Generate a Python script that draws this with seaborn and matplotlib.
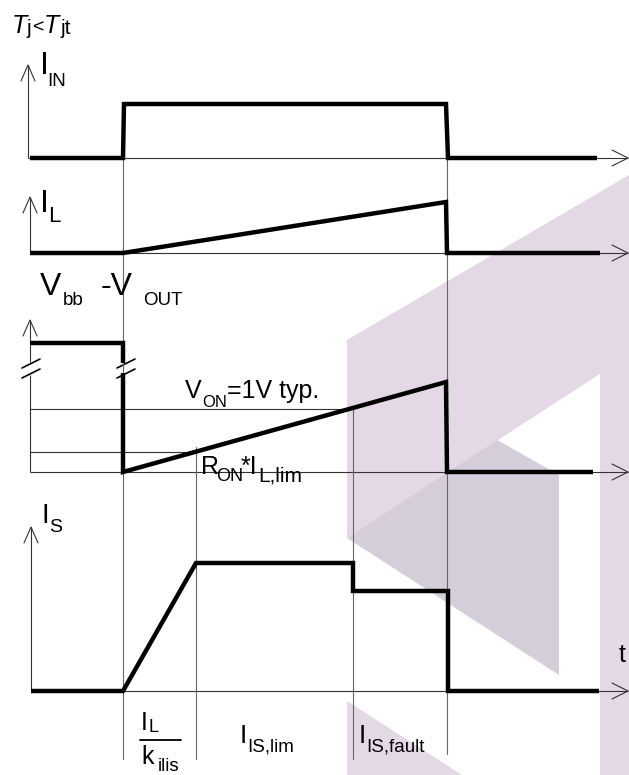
import numpy as np
import pandas as pd
import matplotlib
matplotlib.use("Agg")
import matplotlib.pyplot as plt
from matplotlib.patches import Polygon
import seaborn as sns

# ── Timing data (picture units, px; y grows downward) ──────
T_ON, T_LIM, T_FAULT, T_OFF = 123, 196, 353, 447

# I_IN
iin_t = [30, 123, 124, 446, 448, 597]
iin_y = [158, 158, 104, 104, 158, 158]
# I_L
il_t = [30, 123, 446, 447, 600]
il_y = [253, 253, 202, 253, 253]
# Vbb - VOUT (split by the axis break)
vds_hi_t = [30, 123, 123]
vds_hi_y = [343, 343, 363]
vds_t = [123, 123, 446, 447, 593]
vds_y = [373, 472, 382, 472, 472]
# I_S
is_t = [31, 123, 196, 353, 353, 448, 448, 599]
is_y = [691, 691, 563, 563, 591, 591, 691, 691]

# axes of the four traces
baselines = [158, 253, 472, 691]
axis_x = [28, 30, 30, 31]
axis_top = [65, 197, 320, 527]

# reference levels on the Vbb - VOUT trace
von_level = 409
ron_level = 452

# ── Style ──────────────────────────────────────────────
sns.set_theme(style="white")
plt.rcParams["font.family"] = ["Liberation Sans", "DejaVu Sans"]

W, H = 629, 775
fig = plt.figure(figsize=(W / 100, H / 100), dpi=100)
ax = fig.add_axes([0, 0, 1, 1])

THIN = dict(color="#333333", lw=0.8, solid_capstyle="butt")
GUIDE = dict(color="#666666", lw=0.8)
THICK = dict(color="black", lw=3.2, solid_capstyle="butt", solid_joinstyle="miter")

# ── Watermark ──────────────────────────────────────────
LIGHT = "#e4d8e6"
DARK = "#d6cdda"
shapes = [
    ([(347, 340), (629, 175), (629, 355), (347, 538)], LIGHT),
    ([(600, 340), (629, 340), (629, 775), (600, 775)], LIGHT),
    ([(347, 538), (497, 440), (559, 475), (559, 675)], DARK),
    ([(347, 701), (347, 775), (462, 775)], LIGHT),
]
for pts, col in shapes:
    ax.add_patch(Polygon(pts, closed=True, facecolor=col, edgecolor="none", zorder=0))

# ── Axes with open arrow heads ─────────────────────────
for i, (bx, base, top) in enumerate(zip(axis_x, baselines, axis_top)):
    if i == 2:
        ax.plot([bx, bx], [base, 375], **THIN)
        ax.plot([bx, bx], [362, top], **THIN)
    else:
        ax.plot([bx, bx], [base, top], **THIN)
    ax.plot([bx - 7, bx, bx + 7], [top + 16, top, top + 16], color="#333333", lw=0.8)
    ax.plot([bx, 628], [base, base], **THIN)
    ax.plot([612, 628, 612], [base - 8, base, base + 8], color="#333333", lw=0.8)

# break marks
for x0 in [22, 117]:
    for dy in [0, 10]:
        ax.plot([x0, x0 + 18], [368 + dy, 359 + dy], color="black", lw=1.2)

# ── Guide lines ────────────────────────────────────────
ramp_x = lambda lvl: np.interp(lvl, [vds_y[2], vds_y[1]], [vds_t[2], vds_t[1]])
ax.plot([30, ramp_x(von_level)], [von_level, von_level], **THIN)
ax.plot([30, ramp_x(ron_level)], [ron_level, ron_level], **THIN)
ax.plot([T_ON, T_ON], [baselines[0], 759], **GUIDE)
ax.plot([T_OFF, T_OFF], [baselines[0], 754], **GUIDE)
ax.plot([T_LIM, T_LIM], [ron_level - 5, 759], **GUIDE)
ax.plot([T_FAULT, T_FAULT], [von_level, 759], **GUIDE)

# ── Waveforms ──────────────────────────────────────────
for t, y in [(iin_t, iin_y), (il_t, il_y), (vds_hi_t, vds_hi_y), (vds_t, vds_y), (is_t, is_y)]:
    df = pd.DataFrame({"t": t, "y": y})
    sns.lineplot(data=df, x="t", y="y", sort=False, estimator=None, ax=ax, zorder=3, **THICK)

# ── Labels ─────────────────────────────────────────────
def txt(x, y, s, size, **kw):
    ax.text(x, y, s, fontsize=size, ha="left", va="baseline", color="black", zorder=4, **kw)

BIG, MID, SUB = 23, 18, 13.5

txt(12, 33, "T", MID, style="italic")
txt(27, 34, "j", 15)
txt(33, 32, "<", 14)
txt(44, 33, "T", MID, style="italic")
txt(61, 34, "jt", 15)

txt(40, 74, "I", BIG)
txt(47, 86, "IN", SUB)

txt(40, 212, "I", BIG)
txt(48, 222, "L", 16)

txt(40, 295, "V", BIG)
txt(63, 305, "bb", SUB)
txt(101, 295, "-V", BIG)
txt(143, 305, "OUT", SUB)

txt(185, 398, "V", MID)
txt(202, 407, "ON", 12)
txt(227, 398, "=1V typ.", MID)

txt(201, 474, "R", MID)
txt(216, 481, "ON", 13)
txt(241, 474, "*I", MID)
txt(258, 481, "L,lim", 15)

txt(42, 523, "I", 20)
txt(49, 532, "S", 14)

txt(619, 662, "t", MID)

txt(141, 730, "I", MID)
txt(149, 732, "L", 13)
ax.plot([140, 181], [740, 740], color="black", lw=1.3)
txt(141, 764, "k", MID)
txt(158, 771, "ilis", SUB)

txt(240, 743, "I", 19)
txt(247, 751, "IS,lim", SUB)
txt(359, 743, "I", 19)
txt(366, 751, "IS,fault", SUB)

ax.set_xlim(0, W)
ax.set_ylim(H, 0)
ax.axis("off")

fig.savefig("out.png", dpi=100)
